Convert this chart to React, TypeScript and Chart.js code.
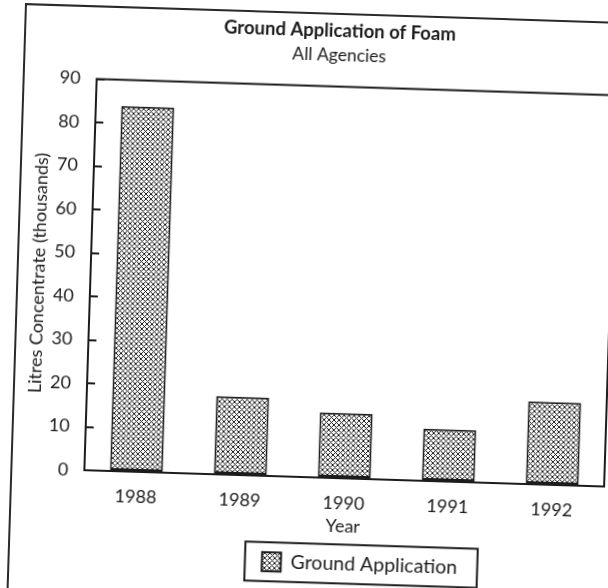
import React, { useEffect, useRef } from "react";
import { Chart, registerables } from "chart.js";

Chart.register(...registerables);

const years = ["1988", "1989", "1990", "1991", "1992"];
const groundApplication = [84, 18, 15, 12, 19];
const yMin = 0;
const yMax = 90;
const yStep = 10;
const chartTitle = "Ground Application of Foam";
const chartSubtitle = "All Agencies";
const xAxisTitle = "Year";
const yAxisTitle = "Litres Concentrate (thousands)";
const seriesLabel = "Ground Application";

const INK = "#1c1c1c";
const FONT = "Lato, 'Open Sans', sans-serif";
const LEGEND_DX = 36.3;

function makeHatch(ctx: CanvasRenderingContext2D): CanvasPattern | string {
  const s = 5;
  const c = document.createElement("canvas");
  c.width = s;
  c.height = s;
  const g = c.getContext("2d");
  if (!g) return "#777";
  g.fillStyle = "#ffffff";
  g.fillRect(0, 0, s, s);
  g.strokeStyle = "#1e1e1e";
  g.lineWidth = 1.0;
  for (let k = -1; k <= 1; k++) {
    g.beginPath();
    g.moveTo(k * s - 1, -1);
    g.lineTo(k * s + s + 1, s + 1);
    g.stroke();
    g.beginPath();
    g.moveTo(k * s + s + 1, -1);
    g.lineTo(k * s - 1, s + 1);
    g.stroke();
  }
  return ctx.createPattern(c, "repeat") || "#777";
}

const plotFrame = {
  id: "plotFrame",
  afterDraw(chart: any) {
    const { ctx, chartArea } = chart;
    const { left, top, right, bottom } = chartArea;
    ctx.save();
    ctx.strokeStyle = INK;
    ctx.lineWidth = 2;
    ctx.strokeRect(left, top, right - left, bottom - top);
    ctx.restore();
  },
};

const legendShift = {
  id: "legendShift",
  afterLayout(chart: any) {
    const lg = chart.legend;
    if (lg) {
      lg.left += LEGEND_DX;
      lg.right += LEGEND_DX;
    }
  },
  afterDraw(chart: any) {
    const lg = chart.legend;
    if (!lg || !lg.legendHitBoxes || !lg.legendHitBoxes.length) return;
    const hb = lg.legendHitBoxes[0];
    const cy = hb.top + hb.height / 2;
    const x0 = hb.left - 17;
    const x1 = hb.left + hb.width + 20;
    const ctx = chart.ctx;
    ctx.save();
    ctx.strokeStyle = INK;
    ctx.lineWidth = 2;
    ctx.strokeRect(x0, cy - 19.5, x1 - x0, 39);
    ctx.restore();
  },
};

export default function App() {
  const ref = useRef<HTMLCanvasElement | null>(null);

  useEffect(() => {
    const canvas = ref.current;
    if (!canvas) return;
    const ctx = canvas.getContext("2d");
    if (!ctx) return;
    const hatch = makeHatch(ctx);

    const chart = new Chart(canvas, {
      type: "bar",
      data: {
        labels: years,
        datasets: [
          {
            label: seriesLabel,
            data: groundApplication,
            backgroundColor: hatch as any,
            borderColor: INK,
            borderWidth: 2,
            borderSkipped: false,
            categoryPercentage: 1,
            barPercentage: 0.51,
          },
        ],
      },
      options: {
        animation: false,
        responsive: false,
        maintainAspectRatio: false,
        layout: { padding: { left: 35.4, right: 36, top: 0, bottom: 21.5 } },
        plugins: {
          title: {
            display: true,
            text: chartTitle,
            color: INK,
            font: { family: FONT, size: 18.5, weight: "bold", lineHeight: 1.2 },
            padding: { top: 4.9, bottom: 0 },
          },
          subtitle: {
            display: true,
            text: chartSubtitle,
            color: INK,
            font: { family: FONT, size: 17.5, weight: "normal", lineHeight: 1.2 },
            padding: { top: 2.4, bottom: 21.1 },
          },
          legend: {
            display: true,
            position: "bottom",
            labels: {
              color: INK,
              font: { family: FONT, size: 19.5 },
              boxWidth: 19,
              boxHeight: 19,
              padding: 16,
            },
          },
          tooltip: { enabled: false },
        },
        scales: {
          x: {
            type: "category",
            offset: true,
            grid: { display: false, drawTicks: false },
            border: { display: true, color: INK, width: 2 },
            ticks: {
              color: INK,
              font: { family: FONT, size: 18, lineHeight: 1.2 },
              padding: 14.2,
              maxRotation: 0,
            },
            title: {
              display: true,
              text: xAxisTitle,
              color: INK,
              font: { family: FONT, size: 18, lineHeight: 1.2 },
              padding: { top: 0, bottom: 0.8 },
            },
            afterFit(scale: any) {
              scale.height = 60;
            },
          },
          y: {
            min: yMin,
            max: yMax,
            grid: {
              display: true,
              drawOnChartArea: false,
              drawTicks: true,
              tickLength: -8,
              color: INK,
              lineWidth: 2,
            },
            border: { display: true, color: INK, width: 2 },
            ticks: {
              stepSize: yStep,
              color: INK,
              font: { family: FONT, size: 18, lineHeight: 1.2 },
              padding: 24,
            },
            title: {
              display: true,
              text: yAxisTitle,
              color: INK,
              font: { family: FONT, size: 18, lineHeight: 1.2 },
              padding: { top: -25.8, bottom: 0 },
            },
            afterFit(scale: any) {
              scale.width = 36.6;
            },
          },
        },
      },
      plugins: [plotFrame, legendShift],
    });

    return () => chart.destroy();
  }, []);

  return (
    <div
      style={{
        position: "fixed",
        left: 0,
        top: 0,
        width: 608,
        height: 588,
        overflow: "hidden",
        background: "#ffffff",
      }}
    >
      <div
        style={{
          position: "absolute",
          left: 0,
          top: 0,
          width: 608,
          height: 588,
          transform: "rotate(1.8deg)",
          transformOrigin: "304px 294px",
        }}
      >
        <div
          style={{
            position: "absolute",
            left: 16,
            top: 12,
            width: 700,
            height: 700,
            border: "2px solid #2a2a2a",
            background: "#ffffff",
          }}
        >
          <canvas ref={ref} width={628} height={590} style={{ display: "block" }} />
        </div>
      </div>
    </div>
  );
}
